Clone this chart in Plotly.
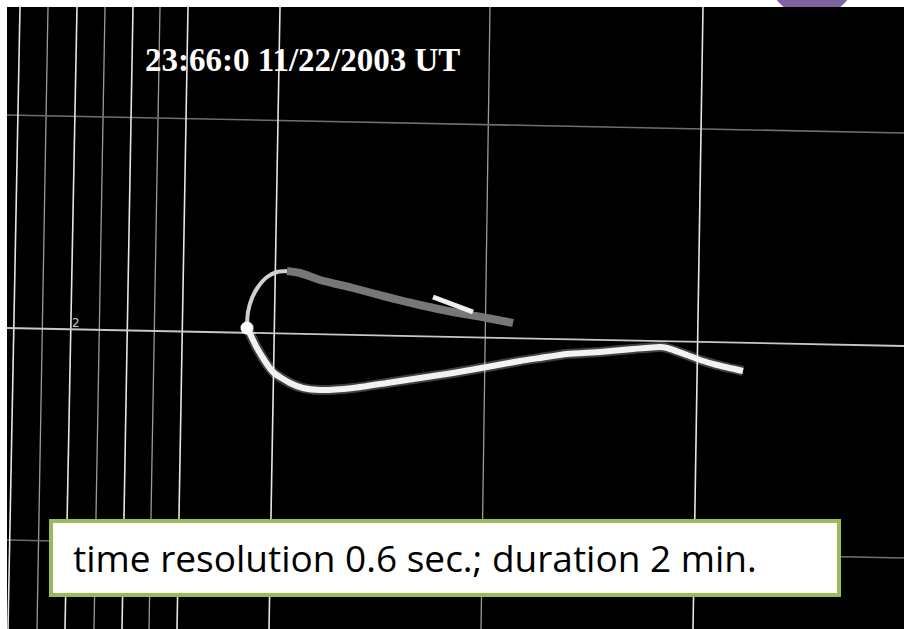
import plotly.graph_objects as go

W, H = 904, 629
TOP, LEFT = 7, 7

# ---- data (picture coordinates) ----
# vertical grid lines: x at top edge and x at bottom edge (slight perspective tilt)
vgrid_top_x = [20, 48, 77, 105, 133, 160, 188, 280, 490, 703]
vgrid_bottom_x = [8, 37, 65, 94, 122, 149, 177, 269, 481, 693]
vgrid_bright = [True, False, True, False, True, False, True, True, False, True]

# horizontal grid lines: y at left edge and y at right edge
hgrid_left_y = [115, 328, 540]
hgrid_right_y = [133, 346, 558]
hgrid_bright = [False, True, False]

# trajectory pieces
arm_x = [513, 487, 453, 420, 387, 353, 320, 300, 287]
arm_y = [323, 318, 312, 305, 297, 288, 280, 273, 271]

arc_x = [287, 277, 267, 258, 252, 248, 247]
arc_y = [271, 272, 277, 287, 298, 312, 327]

lower_x = [247, 257, 273, 290, 303, 320, 353, 387, 420, 453, 487, 520, 540,
           567, 600, 633, 660, 667, 687, 700, 717, 743]
lower_y = [327, 348, 372, 383, 388, 390, 388, 383, 378, 373, 367, 361, 358,
           354, 352, 349, 347, 348, 355, 360, 365, 371]

tip_x = [433, 473]
tip_y = [297, 312]

node_x = [247]
node_y = [328]

title_text = "23:66:0 11/22/2003 UT"
caption_text = "time resolution 0.6 sec.; duration 2 min."
axis_label = "2"

# ---- figure ----
fig = go.Figure()

def seg_xy(xa, ya, xb, yb):
    xs, ys = [], []
    for a, b, c, d in zip(xa, ya, xb, yb):
        xs += [a, c, None]
        ys += [b, d, None]
    return xs, ys

for bright in (False, True):
    xa = [t for t, b in zip(vgrid_top_x, vgrid_bright) if b == bright]
    xb = [t for t, b in zip(vgrid_bottom_x, vgrid_bright) if b == bright]
    xs, ys = seg_xy(xa, [TOP] * len(xa), xb, [H] * len(xb))
    fig.add_trace(go.Scatter(x=xs, y=ys, mode="lines", hoverinfo="skip",
                             line=dict(color="#e6e6e6" if bright else "#9a9a9a",
                                       width=1.6 if bright else 1.3)))
    ya = [t for t, b in zip(hgrid_left_y, hgrid_bright) if b == bright]
    yb = [t for t, b in zip(hgrid_right_y, hgrid_bright) if b == bright]
    xs, ys = seg_xy([LEFT] * len(ya), ya, [W] * len(yb), yb)
    fig.add_trace(go.Scatter(x=xs, y=ys, mode="lines", hoverinfo="skip",
                             line=dict(color="#c8c8c8" if bright else "#6e6e6e",
                                       width=1.8 if bright else 1.6)))

# glow under trajectory
fig.add_trace(go.Scatter(x=lower_x, y=lower_y, mode="lines", hoverinfo="skip",
                         line=dict(color="rgba(255,255,255,0.25)", width=10,
                                   shape="spline", smoothing=0.6)))
fig.add_trace(go.Scatter(x=arm_x, y=arm_y, mode="lines", hoverinfo="skip",
                         line=dict(color="#777777", width=8, shape="spline", smoothing=0.6)))
fig.add_trace(go.Scatter(x=arc_x, y=arc_y, mode="lines", hoverinfo="skip",
                         line=dict(color="#d0d0d0", width=4, shape="spline", smoothing=0.8)))
fig.add_trace(go.Scatter(x=lower_x, y=lower_y, mode="lines", hoverinfo="skip",
                         line=dict(color="#f2f2f2", width=6, shape="spline", smoothing=0.6)))
fig.add_trace(go.Scatter(x=tip_x, y=tip_y, mode="lines", hoverinfo="skip",
                         line=dict(color="#f0f0f0", width=5)))
fig.add_trace(go.Scatter(x=node_x, y=node_y, mode="markers", hoverinfo="skip",
                         marker=dict(color="#ffffff", size=13, line=dict(width=0))))

shapes = [
    # purple badge peeking from the top
    dict(type="circle", xref="paper", yref="paper", layer="below",
         x0=(812 - 45) / W, x1=(812 + 45) / W, y0=1 - 17 / H, y1=1 + 73 / H,
         fillcolor="#8064a2", line=dict(width=0)),
    # black image area
    dict(type="rect", xref="paper", yref="paper", layer="below",
         x0=LEFT / W, x1=1, y0=0, y1=1 - TOP / H,
         fillcolor="#000000", line=dict(width=0)),
    # caption box
    dict(type="rect", xref="x", yref="y", layer="above",
         x0=51, x1=839, y0=521, y1=595,
         fillcolor="#ffffff", line=dict(color="#9bbb59", width=4)),
]

annotations = [
    dict(x=143, y=60, xref="x", yref="y", text=f"<b>{title_text}</b>",
         showarrow=False, xanchor="left", yanchor="middle",
         font=dict(family="Liberation Serif", size=33, color="#ffffff")),
    dict(x=76, y=323, xref="x", yref="y", text=axis_label,
         showarrow=False, xanchor="center", yanchor="middle",
         font=dict(family="DejaVu Sans", size=12, color="#cccccc")),
    dict(x=71, y=557, xref="x", yref="y", text=caption_text,
         showarrow=False, xanchor="left", yanchor="middle",
         font=dict(family="Open Sans", size=37, color="#000000")),
]

fig.update_layout(
    width=W, height=H,
    margin=dict(l=0, r=0, t=0, b=0),
    paper_bgcolor="#ffffff",
    plot_bgcolor="rgba(0,0,0,0)",
    showlegend=False,
    xaxis=dict(range=[LEFT, W], domain=[LEFT / W, 1], visible=False, fixedrange=True),
    yaxis=dict(range=[H, TOP], domain=[0, 1 - TOP / H], visible=False, fixedrange=True),
    shapes=shapes,
    annotations=annotations,
)

fig.write_html("out.html")
